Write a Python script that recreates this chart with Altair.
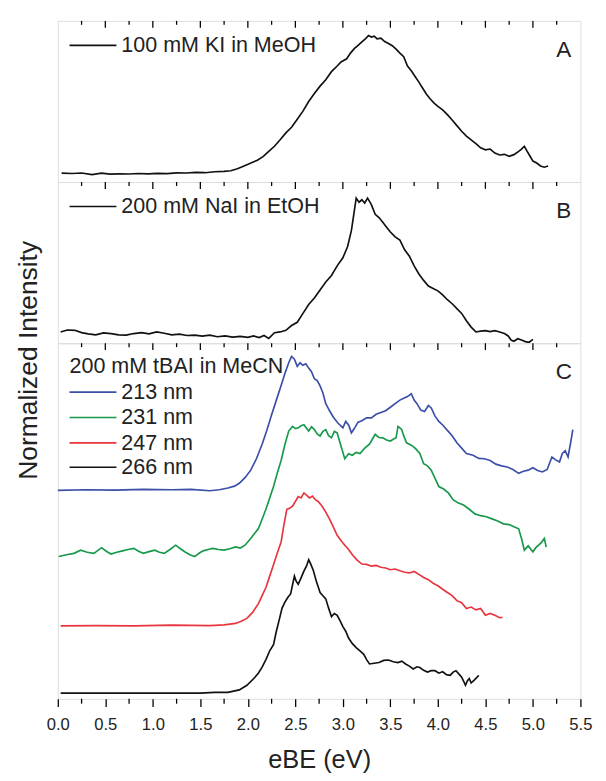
import altair as alt
import pandas as pd

# ---------------- data ----------------
# Panel A: 100 mM KI in MeOH
A_x = [0.04, 0.15, 0.25, 0.36, 0.46, 0.55, 0.65, 0.75, 0.85, 0.95, 1.05, 1.15, 1.25, 1.35, 1.45,
       1.55, 1.65, 1.75, 1.82, 1.89, 1.96, 2.05, 2.1, 2.16, 2.22, 2.28, 2.34, 2.4, 2.46, 2.52,
       2.58, 2.64, 2.7, 2.76, 2.82, 2.88, 2.94, 2.98, 3.04, 3.08, 3.12, 3.16, 3.2, 3.24, 3.27,
       3.3, 3.33, 3.36, 3.4, 3.44, 3.48, 3.52, 3.56, 3.6, 3.64, 3.68, 3.72, 3.76, 3.8, 3.84,
       3.88, 3.92, 3.96, 4.0, 4.05, 4.1, 4.15, 4.2, 4.25, 4.3, 4.35, 4.4, 4.45, 4.5, 4.55,
       4.6, 4.65, 4.7, 4.75, 4.8, 4.85, 4.88, 4.91, 4.94, 4.97, 5.0, 5.04, 5.08, 5.12, 5.16]
A_y = [0.055, 0.053, 0.056, 0.046, 0.055, 0.049, 0.051, 0.05, 0.053, 0.051, 0.054, 0.052, 0.057, 0.056, 0.06,
       0.058, 0.064, 0.066, 0.07, 0.083, 0.1, 0.123, 0.135, 0.158, 0.19, 0.222, 0.262, 0.305, 0.34, 0.39,
       0.44, 0.5, 0.55, 0.595, 0.635, 0.685, 0.72, 0.745, 0.765, 0.8, 0.828, 0.848, 0.87, 0.89, 0.909,
       0.9, 0.905, 0.888, 0.893, 0.872, 0.86, 0.846, 0.825, 0.8, 0.778, 0.72, 0.69, 0.655, 0.62, 0.582,
       0.545, 0.515, 0.49, 0.47, 0.448, 0.418, 0.385, 0.35, 0.315, 0.285, 0.262, 0.238, 0.212, 0.2, 0.205,
       0.18, 0.168, 0.172, 0.16, 0.17, 0.19, 0.205, 0.222, 0.19, 0.16, 0.13, 0.118, 0.1, 0.092, 0.1]

# Panel B: 200 mM NaI in EtOH
B_x = [0.03, 0.1, 0.18, 0.25, 0.32, 0.4, 0.48, 0.56, 0.64, 0.72, 0.8, 0.88, 0.96, 1.04, 1.12,
       1.2, 1.28, 1.36, 1.44, 1.52, 1.6, 1.68, 1.76, 1.84, 1.92, 2.0, 2.06, 2.12, 2.17, 2.22,
       2.28, 2.34, 2.4, 2.46, 2.52, 2.58, 2.64, 2.7, 2.76, 2.82, 2.88, 2.94, 3.0, 3.05, 3.09,
       3.12, 3.14, 3.17, 3.2, 3.23, 3.26, 3.3, 3.34, 3.38, 3.42, 3.46, 3.5, 3.55, 3.6, 3.65,
       3.7, 3.75, 3.8, 3.85, 3.9, 3.95, 4.0, 4.05, 4.1, 4.15, 4.2, 4.25, 4.3, 4.35, 4.4,
       4.45, 4.5, 4.55, 4.6, 4.65, 4.7, 4.74, 4.77, 4.8, 4.84, 4.88, 4.92, 4.96, 5.0]
B_y = [0.07, 0.082, 0.08, 0.066, 0.058, 0.052, 0.064, 0.06, 0.052, 0.05, 0.06, 0.066, 0.058, 0.07, 0.062,
       0.052, 0.056, 0.048, 0.05, 0.044, 0.05, 0.04, 0.046, 0.038, 0.042, 0.036, 0.045, 0.035, 0.048, 0.03,
       0.065, 0.07, 0.08, 0.11, 0.13, 0.185, 0.24, 0.28, 0.33, 0.38, 0.42, 0.48, 0.53, 0.6, 0.7,
       0.82, 0.9, 0.875, 0.89, 0.87, 0.9, 0.86, 0.8, 0.78, 0.75, 0.72, 0.69, 0.66, 0.64, 0.58,
       0.54, 0.48, 0.43, 0.39, 0.355, 0.34, 0.325, 0.3, 0.27, 0.245, 0.215, 0.185, 0.14, 0.1, 0.07,
       0.075, 0.078, 0.072, 0.078, 0.07, 0.06, 0.045, 0.02, 0.012, 0.028, 0.02, 0.01, 0.006, 0.024]

# Panel C: 200 mM tBAI in MeCN, offset spectra at four wavelengths
C213_x = [0.0, 0.3, 0.6, 0.9, 1.2, 1.4, 1.6, 1.7, 1.79, 1.86, 1.91, 1.97, 2.03, 2.09, 2.15,
          2.2, 2.25, 2.3, 2.35, 2.39, 2.43, 2.46, 2.49, 2.52, 2.55, 2.58, 2.61, 2.64, 2.67, 2.7,
          2.73, 2.76, 2.79, 2.82, 2.86, 2.9, 2.95, 3.0, 3.03, 3.06, 3.09, 3.12, 3.16, 3.2, 3.25,
          3.3, 3.35, 3.4, 3.45, 3.5, 3.55, 3.6, 3.64, 3.68, 3.72, 3.75, 3.78, 3.82, 3.86, 3.9,
          3.93, 3.97, 4.01, 4.05, 4.1, 4.15, 4.2, 4.25, 4.3, 4.37, 4.43, 4.49, 4.55, 4.61, 4.67,
          4.73, 4.79, 4.85, 4.9, 4.95, 5.0, 5.05, 5.1, 5.15, 5.2, 5.24, 5.28, 5.31, 5.34, 5.37,
          5.4, 5.42]
C213_y = [0.586, 0.588, 0.587, 0.589, 0.588, 0.589, 0.585, 0.588, 0.593, 0.598, 0.606, 0.622, 0.643, 0.675, 0.716,
          0.755, 0.799, 0.84, 0.881, 0.915, 0.945, 0.963, 0.955, 0.935, 0.945, 0.938, 0.942, 0.93, 0.92, 0.9,
          0.895, 0.88, 0.86, 0.83, 0.81, 0.792, 0.775, 0.762, 0.78, 0.77, 0.748, 0.76, 0.778, 0.782, 0.79,
          0.79, 0.8, 0.805, 0.81, 0.82, 0.83, 0.84, 0.845, 0.85, 0.858, 0.84, 0.83, 0.812, 0.808, 0.825,
          0.818, 0.795, 0.78, 0.77, 0.755, 0.74, 0.72, 0.705, 0.69, 0.685, 0.676, 0.675, 0.67, 0.66, 0.655,
          0.652, 0.645, 0.634, 0.64, 0.643, 0.65, 0.642, 0.638, 0.645, 0.68, 0.672, 0.666, 0.69, 0.698, 0.68,
          0.725, 0.757]

C231_x = [0.01, 0.09, 0.17, 0.24, 0.31, 0.38, 0.46, 0.51, 0.56, 0.62, 0.68, 0.74, 0.8, 0.85, 0.9,
          0.96, 1.02, 1.07, 1.12, 1.18, 1.24, 1.29, 1.34, 1.39, 1.44, 1.49, 1.53, 1.58, 1.63, 1.69,
          1.75, 1.81, 1.87, 1.92, 1.97, 2.03, 2.07, 2.11, 2.15, 2.19, 2.23, 2.27, 2.31, 2.35, 2.39,
          2.43, 2.47, 2.5, 2.53, 2.56, 2.59, 2.62, 2.64, 2.67, 2.7, 2.73, 2.76, 2.79, 2.82, 2.85,
          2.88, 2.91, 2.94, 2.97, 3.02, 3.06, 3.1, 3.14, 3.18, 3.23, 3.28, 3.31, 3.34, 3.38, 3.42,
          3.46, 3.5, 3.53, 3.56, 3.58, 3.6, 3.62, 3.64, 3.67, 3.7, 3.74, 3.77, 3.81, 3.85, 3.89,
          3.93, 3.97, 4.01, 4.06, 4.11, 4.16, 4.21, 4.27, 4.33, 4.39, 4.45, 4.51, 4.57, 4.63, 4.69,
          4.75, 4.8, 4.85, 4.88, 4.91, 4.95, 5.0, 5.03, 5.06, 5.09, 5.12, 5.14]
C231_y = [0.4, 0.405, 0.409, 0.418, 0.412, 0.409, 0.425, 0.415, 0.407, 0.412, 0.416, 0.42, 0.423, 0.415, 0.409,
          0.414, 0.418, 0.412, 0.409, 0.42, 0.432, 0.422, 0.413, 0.405, 0.4, 0.41, 0.416, 0.42, 0.423, 0.42,
          0.418, 0.422, 0.427, 0.424, 0.432, 0.451, 0.465, 0.478, 0.505, 0.533, 0.565, 0.597, 0.635, 0.67, 0.715,
          0.753, 0.766, 0.76, 0.762, 0.768, 0.771, 0.76, 0.753, 0.765, 0.757, 0.745, 0.739, 0.752, 0.757, 0.74,
          0.734, 0.752, 0.748, 0.72, 0.675, 0.689, 0.685, 0.693, 0.69, 0.705, 0.716, 0.73, 0.744, 0.735, 0.734,
          0.728, 0.725, 0.73, 0.734, 0.766, 0.762, 0.757, 0.74, 0.72, 0.716, 0.71, 0.702, 0.69, 0.661, 0.655,
          0.643, 0.62, 0.597, 0.59, 0.579, 0.56, 0.551, 0.545, 0.533, 0.52, 0.515, 0.512, 0.506, 0.5, 0.492,
          0.49, 0.484, 0.478, 0.451, 0.418, 0.43, 0.413, 0.425, 0.432, 0.44, 0.451, 0.427]

C247_x = [0.03, 0.4, 0.8, 1.2, 1.6, 1.75, 1.87, 1.93, 1.99, 2.05, 2.11, 2.15, 2.19, 2.23, 2.27,
          2.31, 2.35, 2.38, 2.41, 2.44, 2.47, 2.5, 2.53, 2.56, 2.59, 2.62, 2.65, 2.68, 2.71, 2.74,
          2.78, 2.82, 2.86, 2.9, 2.94, 2.98, 3.02, 3.06, 3.1, 3.15, 3.2, 3.25, 3.3, 3.35, 3.4,
          3.45, 3.5, 3.55, 3.6, 3.65, 3.7, 3.75, 3.8, 3.85, 3.9, 3.95, 4.0, 4.05, 4.1, 4.15,
          4.2, 4.25, 4.3, 4.35, 4.4, 4.45, 4.5, 4.55, 4.6, 4.65, 4.68]
C247_y = [0.205, 0.206, 0.205, 0.207, 0.206, 0.208, 0.212, 0.218, 0.226, 0.243, 0.267, 0.29, 0.313, 0.345, 0.377,
          0.41, 0.441, 0.49, 0.533, 0.536, 0.542, 0.555, 0.569, 0.565, 0.579, 0.572, 0.565, 0.57, 0.56, 0.555,
          0.542, 0.525, 0.505, 0.483, 0.46, 0.445, 0.432, 0.42, 0.405, 0.39, 0.379, 0.378, 0.373, 0.375, 0.37,
          0.368, 0.363, 0.365, 0.36, 0.356, 0.354, 0.358, 0.35, 0.341, 0.335, 0.325, 0.318, 0.308, 0.299, 0.29,
          0.276, 0.27, 0.254, 0.258, 0.25, 0.254, 0.235, 0.24, 0.235, 0.228, 0.229]

C266_x = [0.03, 0.5, 1.0, 1.5, 1.65, 1.79, 1.91, 1.99, 2.07, 2.11, 2.15, 2.19, 2.23, 2.27, 2.3,
          2.33, 2.36, 2.39, 2.42, 2.45, 2.47, 2.49, 2.51, 2.53, 2.56, 2.59, 2.62, 2.64, 2.66, 2.69,
          2.72, 2.74, 2.76, 2.79, 2.82, 2.85, 2.88, 2.91, 2.94, 2.97, 3.0, 3.03, 3.06, 3.1, 3.14,
          3.18, 3.22, 3.25, 3.28, 3.33, 3.38, 3.43, 3.48, 3.53, 3.58, 3.62, 3.66, 3.7, 3.74, 3.78,
          3.81, 3.85, 3.89, 3.93, 3.97, 4.01, 4.05, 4.09, 4.13, 4.16, 4.19, 4.22, 4.25, 4.27, 4.29,
          4.31, 4.33, 4.35, 4.38, 4.41, 4.43]
C266_y = [0.016, 0.016, 0.016, 0.016, 0.018, 0.018, 0.025, 0.038, 0.059, 0.072, 0.089, 0.11, 0.135, 0.152, 0.19,
          0.222, 0.255, 0.272, 0.285, 0.295, 0.32, 0.345, 0.33, 0.322, 0.34, 0.359, 0.375, 0.391, 0.38, 0.36,
          0.331, 0.315, 0.299, 0.29, 0.281, 0.255, 0.231, 0.24, 0.235, 0.22, 0.203, 0.19, 0.171, 0.155, 0.144,
          0.135, 0.125, 0.11, 0.098, 0.1, 0.102, 0.108, 0.109, 0.104, 0.102, 0.106, 0.098, 0.092, 0.084, 0.09,
          0.088, 0.08, 0.075, 0.079, 0.079, 0.072, 0.076, 0.068, 0.066, 0.075, 0.079, 0.07, 0.061, 0.05, 0.038,
          0.05, 0.057, 0.045, 0.052, 0.06, 0.066]

panel_A_label = "100 mM KI in MeOH"
panel_B_label = "200 mM NaI in EtOH"
panel_C_title = "200 mM tBAI in MeCN"
C_series = ["213 nm", "231 nm", "247 nm", "266 nm"]
C_colors = ["#3b4ea8", "#17984a", "#e8353d", "#111111"]
letters = ["A", "B", "C"]

label_ticks = [0.0, 0.5, 1.0, 1.5, 2.0, 2.5, 3.0, 3.5, 4.0, 4.5, 5.0, 5.5]
major_ticks = [0.5, 1.0, 1.5, 2.0, 2.5, 3.0, 3.5, 4.0, 4.5, 5.0]
minor_ticks = [0.25, 0.75, 1.25, 1.75, 2.25, 2.75, 3.25, 3.75, 4.25, 4.75, 5.25]

# ---------------- layout / style ----------------
FONT = "Liberation Sans"
TXT = "#222222"
W = 535
HA, HB, HC = 165, 165, 364
LW = 1.7
LEG_FS = 22

all_names = [panel_A_label, panel_B_label] + C_series
all_colors = ["#111111", "#111111"] + C_colors

xs = alt.Scale(domain=[0, 5.5], nice=False, zero=False)
ys = alt.Scale(domain=[0, 1], nice=False, zero=False)
cs = alt.Scale(domain=all_names, range=all_colors)
one = pd.DataFrame({"k": [0]})


def series_df(xv, yv, name):
    return pd.DataFrame({"eBE": xv, "I": yv, "series": name})


def make_panel(df, height, x_axis, y_axis, letter, entries, heading, extra_bottom):
    lines = alt.Chart(df).mark_line(strokeWidth=LW, clip=True).encode(
        x=alt.X("eBE:Q", scale=xs, axis=x_axis),
        y=alt.Y("I:Q", scale=ys, axis=y_axis),
        color=alt.Color("series:N", scale=cs, legend=None),
    )
    top_major = alt.Chart(pd.DataFrame({"eBE": major_ticks})).mark_rule(
        color="black", strokeWidth=1.3).encode(
        x=alt.X("eBE:Q", scale=xs, axis=x_axis), y=alt.value(0), y2=alt.value(7))
    top_minor = alt.Chart(pd.DataFrame({"eBE": minor_ticks})).mark_rule(
        color="black", strokeWidth=1.3).encode(
        x=alt.X("eBE:Q", scale=xs, axis=x_axis), y=alt.value(0), y2=alt.value(4))
    layers = [lines, top_major, top_minor]
    if extra_bottom:
        layers.append(alt.Chart(pd.DataFrame({"eBE": minor_ticks})).mark_rule(
            color="black", strokeWidth=1.3).encode(
            x=alt.X("eBE:Q", scale=xs, axis=x_axis), y=alt.value(height), y2=alt.value(height + 5)))
    layers.append(alt.Chart(one).mark_text(
        fontSize=23, font=FONT, color=TXT, align="center", baseline="middle").encode(
        x=alt.value(518), y=alt.value(30), text=alt.value(letter)))
    if heading:
        layers.append(alt.Chart(one).mark_text(
            fontSize=LEG_FS, font=FONT, color=TXT, align="left", baseline="middle").encode(
            x=alt.value(12), y=alt.value(23), text=alt.value(heading)))
    for (label, col, yy) in entries:
        layers.append(alt.Chart(one).mark_rule(color=col, strokeWidth=LW).encode(
            x=alt.value(12), x2=alt.value(60), y=alt.value(yy)))
        layers.append(alt.Chart(one).mark_text(
            fontSize=LEG_FS, font=FONT, color=TXT, align="left", baseline="middle").encode(
            x=alt.value(65), y=alt.value(yy), text=alt.value(label)))
    return alt.layer(*layers).properties(width=W, height=height)


no_y = alt.Axis(title=None, labels=False, ticks=False, domain=False, grid=False)
y_title = alt.Axis(title="Normalized Intensity", labels=False, ticks=False, domain=False, grid=False,
                   titleFontSize=27, titleFont=FONT, titleFontWeight="normal", titleColor=TXT,
                   titleX=-30, titleY=17, titleBaseline="middle", titleAngle=270)
x_bottom = alt.Axis(values=label_ticks, format=".1f", labelFontSize=17, labelFont=FONT, labelColor=TXT,
                    labelPadding=10, labelFlush=False, labelOverlap=False,
                    tickSize=8, tickWidth=1.3, tickColor="black", domain=False, grid=False,
                    title="eBE (eV)", titleFontSize=26, titleFont=FONT, titleFontWeight="normal",
                    titleColor=TXT, titleY=62, titleBaseline="middle")

dfA = series_df(A_x, A_y, panel_A_label)
dfB = series_df(B_x, B_y, panel_B_label)
dfC = pd.concat([
    series_df(C213_x, C213_y, C_series[0]),
    series_df(C231_x, C231_y, C_series[1]),
    series_df(C247_x, C247_y, C_series[2]),
    series_df(C266_x, C266_y, C_series[3]),
])

pA = make_panel(dfA, HA, None, no_y, letters[0], [(panel_A_label, "#111111", 25)], None, False)
pB = make_panel(dfB, HB, None, no_y, letters[1], [(panel_B_label, "#111111", 25)], None, False)
pC = make_panel(dfC, HC, x_bottom, y_title, letters[2],
                [(C_series[i], C_colors[i], yy) for i, yy in enumerate([50, 76, 102, 127])],
                panel_C_title, True)

chart = alt.vconcat(pA, pB, pC, spacing=0).properties(
    bounds="flush",
    padding={"left": 6, "top": 2, "right": 5, "bottom": 0},
).resolve_scale(x="independent", y="independent").configure_view(
    stroke="black", strokeWidth=1.5
).configure(font=FONT)

chart.save("out.html", embed_options={"renderer": "svg", "actions": False})
